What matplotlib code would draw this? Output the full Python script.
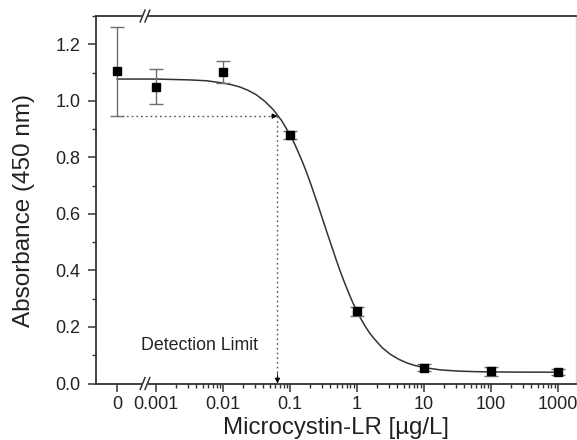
import numpy as np
import matplotlib
matplotlib.use('Agg')
import matplotlib.pyplot as plt
from matplotlib.ticker import FixedLocator, NullFormatter

plt.rcParams['font.family'] = ['Liberation Sans', 'DejaVu Sans']

# ============== DATA ==============
conc = [0, 0.001, 0.01, 0.1, 1, 10, 100, 1000]          # ug/L, 0 = blank
absorb = [1.105, 1.049, 1.102, 0.880, 0.255, 0.056, 0.043, 0.041]
absorb_err = [0.157, 0.062, 0.040, 0.015, 0.015, 0.012, 0.015, 0.012]

# fitted curve
fit_conc = [0, 0.001, 0.00316, 0.00562, 0.01, 0.01334, 0.0178, 0.02371, 0.0316,
            0.04217, 0.0562, 0.0750, 0.1, 0.1155, 0.133, 0.154, 0.178, 0.2054,
            0.237, 0.2738, 0.316, 0.3652, 0.422, 0.487, 0.562, 0.649, 0.750,
            0.866, 1, 1.155, 1.33, 1.54, 1.78, 2.371, 3.16, 4.217, 5.62, 7.50,
            10, 17.78, 31.6, 56.2, 100, 316, 1000]
fit_abs = [1.077, 1.077, 1.074, 1.071, 1.063, 1.057, 1.049, 1.037, 1.021,
           0.998, 0.969, 0.930, 0.880, 0.851, 0.818, 0.783, 0.745, 0.704,
           0.661, 0.617, 0.572, 0.527, 0.483, 0.439, 0.397, 0.358, 0.321,
           0.286, 0.255, 0.227, 0.202, 0.179, 0.160, 0.127, 0.103, 0.0855, 0.0725, 0.063,
           0.0565, 0.048, 0.0441, 0.042, 0.041, 0.0402, 0.040]

tick_conc = [0, 0.001, 0.01, 0.1, 1, 10, 100, 1000]
tick_labels = ['0', '0.001', '0.01', '0.1', '1', '10', '100', '1000']

detection_limit_conc = 0.065
detection_limit_abs = 0.946
# ===========================================================

ZERO_POS = 10 ** -3.58   # where the blank (0) sits on the broken log axis


def to_axis(x):
    x = np.asarray(x, dtype=float)
    return np.where(x == 0, ZERO_POS, x)


fig = plt.figure(figsize=(5.77, 4.40), dpi=100)
ax = fig.add_axes([0.1664, 0.1284, 0.8326, 0.8352])

spine_col = '#333333'

# fit curve
ax.plot(to_axis(fit_conc), fit_abs, color='#333333', lw=1.1, zorder=2)

# data with error bars
ax.errorbar(to_axis(conc), absorb, yerr=absorb_err, fmt='none', ecolor='#6e6e6e',
            elinewidth=1.0, capsize=5, capthick=1.0, zorder=3)
ax.plot(to_axis(conc), absorb, ls='none', marker='s', ms=6, color='black', zorder=4)

# detection limit guides
ax.plot(to_axis([0, detection_limit_conc]), [detection_limit_abs] * 2,
        ls=(0, (1.2, 2.2)), color='#555555', lw=1.0, zorder=1)
ax.plot([detection_limit_conc] * 2, [detection_limit_abs, 0.02],
        ls=(0, (1.2, 2.2)), color='#555555', lw=1.0, zorder=1)
ax.annotate('', xy=(detection_limit_conc, detection_limit_abs),
            xytext=(detection_limit_conc * 0.8, detection_limit_abs),
            arrowprops=dict(arrowstyle='-|>', color='black', lw=0.6, mutation_scale=8,
                            shrinkA=0, shrinkB=0))
ax.annotate('', xy=(detection_limit_conc, 0.0),
            xytext=(detection_limit_conc, 0.035),
            arrowprops=dict(arrowstyle='-|>', color='black', lw=0.6, mutation_scale=8,
                            shrinkA=0, shrinkB=0))
ax.text(0.0045, 0.135, 'Detection Limit', fontsize=12.8, ha='center', va='center',
        color='#222222')

# axes
ax.set_xscale('log')
ax.set_xlim(10 ** -3.896, 10 ** 3.276)
ax.set_ylim(0, 1.30)

ax.xaxis.set_major_locator(FixedLocator(to_axis(tick_conc)))
ax.set_xticklabels(tick_labels)
minor = [k * 10.0 ** d for d in range(-3, 4) for k in range(2, 10)]
ax.xaxis.set_minor_locator(FixedLocator(minor))
ax.xaxis.set_minor_formatter(NullFormatter())

ax.set_yticks(np.arange(0, 1.21, 0.2))
ax.set_yticks(np.arange(0.1, 1.31, 0.2), minor=True)
ax.set_yticklabels([f'{v:.1f}' for v in np.arange(0, 1.21, 0.2)])

ax.tick_params(which='major', direction='out', length=6, width=1.1, color=spine_col,
               labelsize=13, pad=3, labelcolor='#222222')
ax.tick_params(which='minor', direction='out', length=3, width=1.0, color=spine_col)
ax.tick_params(axis='y', which='major', pad=5)

for side in ['left', 'bottom', 'top']:
    ax.spines[side].set_color(spine_col)
    ax.spines[side].set_linewidth(1.3)
ax.spines['right'].set_color('#d0d0d0')
ax.spines['right'].set_linewidth(1.0)

ax.set_xlabel('Microcystin-LR [µg/L]', fontsize=17.3, color='#222222', labelpad=3)
ax.set_ylabel('Absorbance (450 nm)', fontsize=17.5, color='#222222')
ax.yaxis.set_label_coords(-0.127, 0.472)

# break marks on top and bottom spines
bx = 0.102
for yb in (0.0, 1.0):
    ax.add_patch(plt.Rectangle((bx - 0.006, yb - 0.01), 0.012, 0.02, transform=ax.transAxes,
                               facecolor='white', edgecolor='none', clip_on=False, zorder=5))
    for dx in (-0.005, 0.005):
        ax.plot([bx + dx - 0.005, bx + dx + 0.005], [yb - 0.016, yb + 0.016],
                transform=ax.transAxes, color=spine_col, lw=1.1, clip_on=False, zorder=6)

fig.savefig('out.png', dpi=100)
